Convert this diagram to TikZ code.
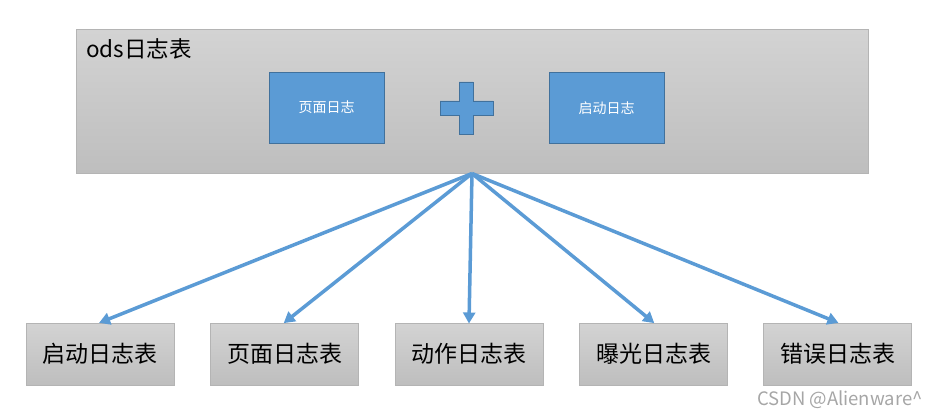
\documentclass[tikz,border=0pt]{standalone}
\usepackage{fontspec}
\setmainfont{Noto Sans CJK SC}
\usetikzlibrary{arrows.meta}

\definecolor{logblue}{HTML}{5B9BD5}
\definecolor{logblueline}{HTML}{41719C}
\definecolor{grayline}{HTML}{B4B4B4}
\definecolor{graytop}{HTML}{D3D3D3}
\definecolor{graybottom}{HTML}{BEBEBE}
\definecolor{markgray}{HTML}{A6A6A6}

\tikzset{
  graybox/.style={draw=grayline, top color=graytop, bottom color=graybottom,
    inner sep=0pt, line width=1pt},
  bluebox/.style={draw=logblueline, fill=logblue, text=white, inner sep=0pt,
    minimum width=115pt, minimum height=71pt, font=\fontsize{14}{16}\selectfont},
  tablebox/.style={graybox, minimum width=148pt, minimum height=62pt,
    font=\fontsize{23}{27}\selectfont},
  fanarrow/.style={draw=logblue, line width=3.5pt,
    -{Triangle[length=11pt, width=12pt]}, shorten >=-1pt},
}

\begin{document}
\begin{tikzpicture}[x=1pt, y=-1pt]
  \useasboundingbox (0,0) rectangle (939,417);

  % ods panel
  \node[graybox, minimum width=792pt, minimum height=143pt] (ods) at (472,101.5) {};
  \node[anchor=base west, inner sep=0pt, font=\fontsize{22.5}{26}\selectfont]
    (odstitle) at (86,58) {ods日志表};

  % merged logs
  \node[bluebox] (pagelog) at (326.5,107.5) {页面日志};
  \node[bluebox] (startlog) at (606.5,108) {启动日志};

  % plus sign
  \draw[draw=logblueline, fill=logblue, line width=0.8pt]
    (459,82) -- (473,82) -- (473,101) -- (493,101) -- (493,115) -- (473,115)
    -- (473,134) -- (459,134) -- (459,115) -- (440,115) -- (440,101)
    -- (459,101) -- cycle;

  % target tables
  \foreach \name/\x/\txt in {start/100/启动日志表, page/284.5/页面日志表,
      action/469/动作日志表, display/653.5/曝光日志表, error/837.5/错误日志表}
    \node[tablebox] (\name) at (\x,354) {\txt};

  % split arrows
  \foreach \name in {start, page, action, display, error}
    \draw[fanarrow] (ods.south) -- (\name.north);

  % watermark
  \node[anchor=base east, inner sep=0pt, text=markgray,
    font=\fontsize{18.5}{21}\selectfont] (mark) at (923,405) {CSDN @Alienware\^{}};
\end{tikzpicture}
\end{document}
